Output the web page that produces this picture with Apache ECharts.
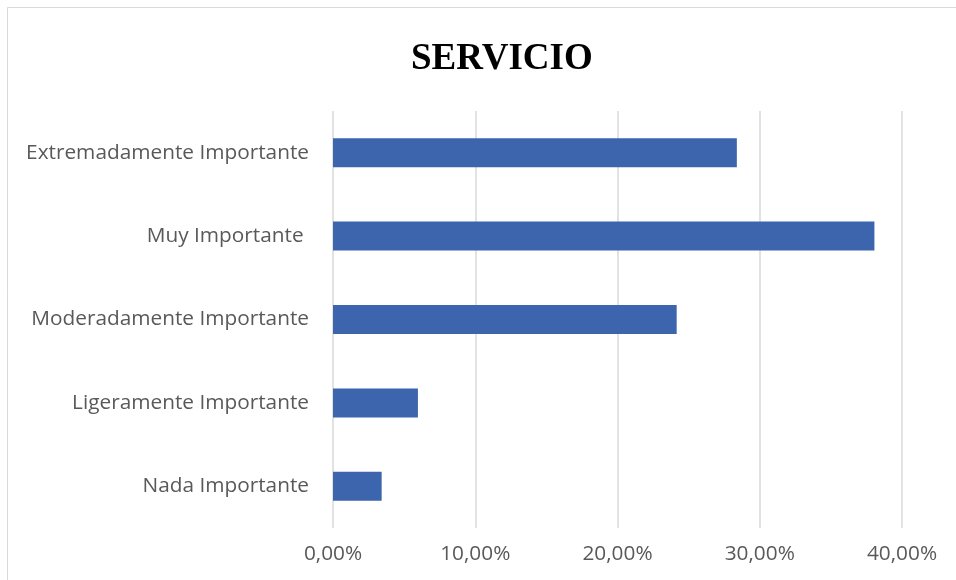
<!DOCTYPE html>
<html>
<head>
<meta charset="utf-8">
<script src="https://cdn.jsdelivr.net/npm/echarts@6/dist/echarts.min.js"></script>
<style>
  html, body { margin: 0; padding: 0; background: #fff; }
  #chart { width: 956px; height: 580px; }
</style>
</head>
<body>
<div id="chart"></div>
<script>
const categories = [
  'Extremadamente Importante',
  'Muy Importante ',
  'Moderadamente Importante',
  'Ligeramente Importante',
  'Nada Importante'
];
const values = [28.39, 38.06, 24.16, 5.97, 3.42];
const tickLabels = ['0,00%', '10,00%', '20,00%', '30,00%', '40,00%'];

const labelFont = '"Open Sans", Lato, sans-serif';

const chart = echarts.init(document.getElementById('chart'), null, { renderer: 'canvas' });

chart.setOption({
  backgroundColor: '#ffffff',
  animation: false,
  title: {
    text: 'SERVICIO',
    left: 406,
    top: 36,
    textStyle: {
      fontFamily: '"Liberation Serif", "Times New Roman", serif',
      fontWeight: 'bold',
      fontSize: 37,
      color: '#000000'
    }
  },
  graphic: [{
    type: 'rect',
    shape: { x: 7.5, y: 7.5, width: 960, height: 580 },
    style: { fill: 'none', stroke: '#d9d9d9', lineWidth: 1 },
    silent: true
  }],
  grid: { left: 333, right: 54, top: 111, bottom: 52 },
  xAxis: {
    type: 'value',
    min: 0,
    max: 40,
    interval: 10,
    axisLine: { show: false },
    axisTick: { show: false },
    splitLine: { show: true, lineStyle: { color: '#d9d9d9', width: 1.5 } },
    axisLabel: {
      margin: 16,
      fontFamily: labelFont,
      fontSize: 20.8,
      color: '#595959',
      formatter: function (v) { return tickLabels[Math.round(v / 10)]; }
    }
  },
  yAxis: {
    type: 'category',
    inverse: true,
    data: categories,
    axisLine: { show: false },
    axisTick: { show: false },
    axisLabel: {
      margin: 24,
      fontFamily: labelFont,
      fontSize: 20.8,
      color: '#595959'
    }
  },
  series: [{
    type: 'bar',
    data: values,
    barWidth: 29,
    itemStyle: { color: '#3D65AD' }
  }]
});
</script>
</body>
</html>
